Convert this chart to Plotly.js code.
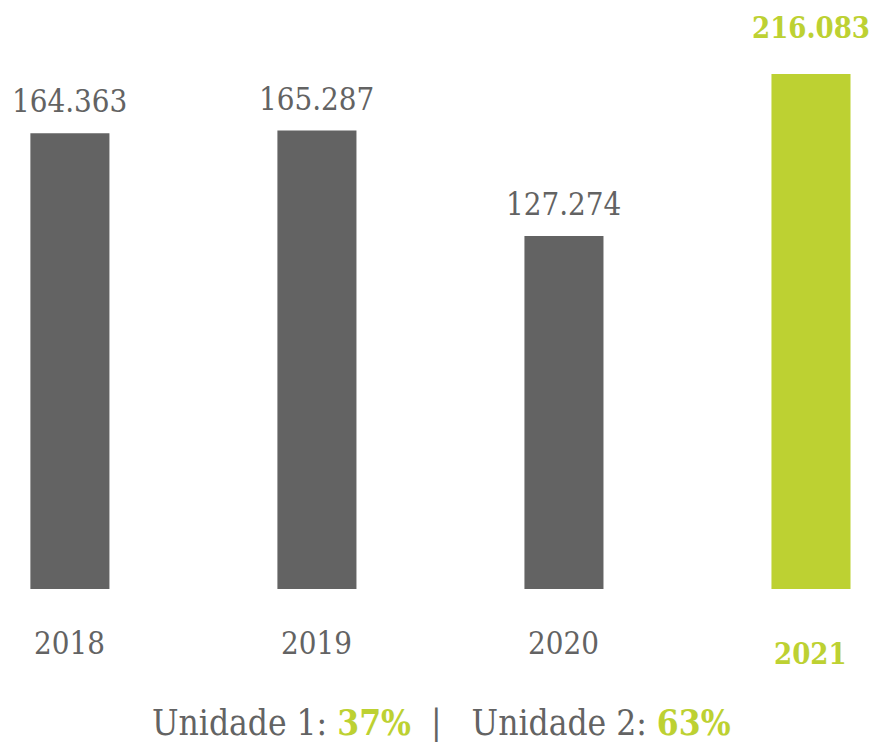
<!DOCTYPE html>
<html>
<head>
<meta charset="utf-8">
<script src="https://cdn.plot.ly/plotly-3.0.1.min.js"></script>
<style>
  html, body { margin: 0; padding: 0; background: #fff; }
  #chart { width: 872px; height: 742px; }
</style>
</head>
<body>
<div id="chart"></div>
<script>
// data
const years = ['2018', '2019', '2020', '2021'];
const values = [164363, 165287, 127274, 216083];
const labels = ['164.363', '165.287', '127.274', '216.083'];
const highlight = [false, false, false, true];
const shares = [['Unidade 1', '37%'], ['Unidade 2', '63%']];

const GREY = '#636363';
const GREEN = '#bdd132';
const FONT = '"DejaVu Serif Condensed", "DejaVu Serif", serif';

// the 2021 bar is drawn cut off at the top in the original, so the axis stops short of it
const yMax = 185700;

const bars = {
    x: years,
    y: values,
    type: 'bar',
    width: 0.32,
    marker: { color: highlight.map(h => h ? GREEN : GREY) },
    hoverinfo: 'none'
};

const annotations = [];
years.forEach((yr, i) => {
    const h = highlight[i];
    // value above the bar (category index as x position)
    annotations.push({
        x: i, y: Math.min(values[i], yMax), xref: 'x', yref: 'y',
        text: h ? '<b>' + labels[i] + '</b>' : labels[i],
        showarrow: false, yanchor: 'middle', yshift: h ? 46 : 32,
        font: { family: FONT, size: h ? 29 : 31, color: h ? GREEN : GREY }
    });
    // year under the bar
    annotations.push({
        x: i, y: 0, xref: 'x', yref: 'y',
        text: h ? '<b>' + yr + '</b>' : yr,
        showarrow: false, yanchor: 'middle', yshift: h ? -65 : -54,
        font: { family: FONT, size: h ? 29 : 31, color: h ? GREEN : GREY }
    });
});

const footer = shares
    .map(s => s[0] + ': <b><span style="color:' + GREEN + '">' + s[1] + '</span></b>')
    .join('  |   ');
annotations.push({
    x: 0.5, y: 0, xref: 'paper', yref: 'paper',
    text: footer, showarrow: false, yanchor: 'middle', yshift: -133, xshift: 5,
    font: { family: FONT, size: 35, color: GREY }
});

const layout = {
    width: 872,
    height: 742,
    margin: { l: 0, r: 0, t: 74, b: 153 },
    paper_bgcolor: '#fff',
    plot_bgcolor: '#fff',
    showlegend: false,
    xaxis: { type: 'category', range: [-0.283, 3.247], showticklabels: false, showgrid: false, zeroline: false, showline: false, ticks: '' },
    yaxis: { range: [0, yMax], visible: false, showgrid: false, zeroline: false },
    annotations: annotations
};

Plotly.newPlot('chart', [bars], layout, { displayModeBar: false, staticPlot: true });
</script>
</body>
</html>
